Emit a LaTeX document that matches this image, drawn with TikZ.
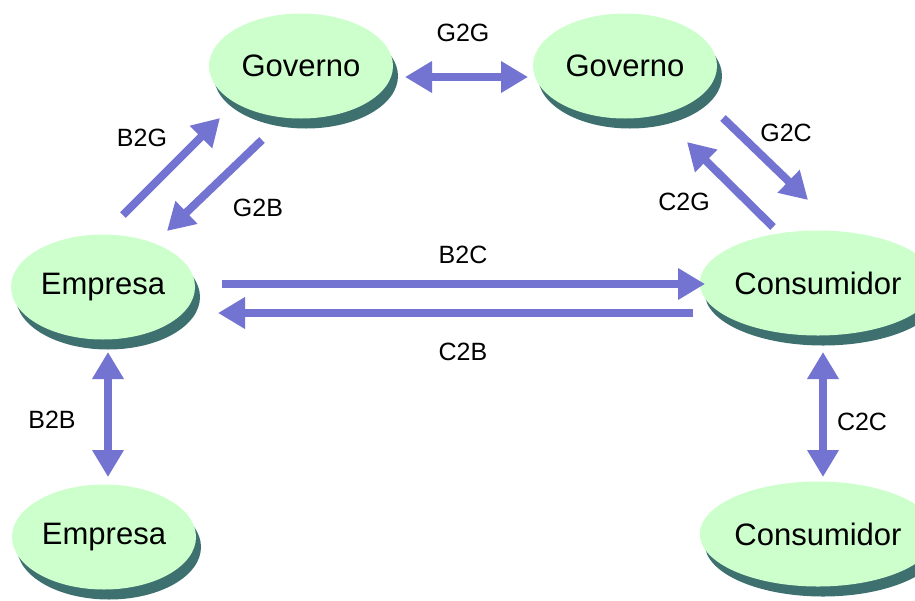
\documentclass[tikz,border=0pt]{standalone}
\usepackage{fontspec}
\setmainfont{Liberation Sans}
\usetikzlibrary{shapes.geometric}
\usetikzlibrary{shadows}
\usetikzlibrary{arrows.meta}
\definecolor{mintgreen}{RGB}{204,255,204}
\definecolor{shadowteal}{RGB}{62,112,112}
\definecolor{lavenderblue}{RGB}{115,115,210}
\tikzset{
  actor/.style={ellipse, fill=mintgreen, minimum width=184pt, minimum height=105pt,
    inner sep=0pt, font=\fontsize{31}{36}\selectfont,
    drop shadow={shadow xshift=5pt, shadow yshift=-10pt, fill=shadowteal, opacity=1}},
  flow/.style={line width=8pt, lavenderblue, -{Triangle[length=27pt,width=30pt]}},
  twoway/.style={flow, {Triangle[length=27pt,width=30pt]}-{Triangle[length=27pt,width=30pt]}},
  tag/.style={font=\fontsize{25}{30}\selectfont}
}

\begin{document}
\begin{tikzpicture}[x=1pt, y=-1pt]
	\useasboundingbox (0,0) rectangle (915,600);

	% actors
	\node[actor] (gov1) at (301,66) {Governo};
	\node[actor] (gov2) at (625,66) {Governo};
	\node[actor] (emp1) at (103,287) {Empresa};
	\node[actor] (con1) at (818,283) {Consumidor};
	\node[actor] (emp2) at (104,537) {Empresa};
	\node[actor] (con2) at (818,534) {Consumidor};

	% arrow ends
	\coordinate (g2g1) at (405,77);
	\coordinate (g2g2) at (528,77);
	\coordinate (b2g1) at (123,215);
	\coordinate (b2g2) at (220,118);
	\coordinate (g2b1) at (262,140);
	\coordinate (g2b2) at (167,231);
	\coordinate (g2c1) at (723,118);
	\coordinate (g2c2) at (808,200);
	\coordinate (c2g1) at (773,227);
	\coordinate (c2g2) at (687,142);
	\coordinate (b2c1) at (222,284);
	\coordinate (b2c2) at (705,284);
	\coordinate (c2b1) at (693,313);
	\coordinate (c2b2) at (218,313);
	\coordinate (b2b1) at (108,352);
	\coordinate (b2b2) at (108,477);
	\coordinate (c2c1) at (823,352);
	\coordinate (c2c2) at (823,477);

	\draw[twoway] (g2g1) -- (g2g2);
	\draw[flow] (b2g1) -- (b2g2);
	\draw[flow] (g2b1) -- (g2b2);
	\draw[flow] (g2c1) -- (g2c2);
	\draw[flow] (c2g1) -- (c2g2);
	\draw[flow] (b2c1) -- (b2c2);
	\draw[flow] (c2b1) -- (c2b2);
	\draw[twoway] (b2b1) -- (b2b2);
	\draw[twoway] (c2c1) -- (c2c2);

	% labels
	\node[tag] (lg2g) at (463,33) {G2G};
	\node[tag] (lb2g) at (142,138) {B2G};
	\node[tag] (lg2b) at (258,208) {G2B};
	\node[tag] (lg2c) at (786,133) {G2C};
	\node[tag] (lc2g) at (684,202) {C2G};
	\node[tag] (lb2c) at (463,255) {B2C};
	\node[tag] (lc2b) at (463,352) {C2B};
	\node[tag] (lb2b) at (52,420) {B2B};
	\node[tag] (lc2c) at (862,422) {C2C};
\end{tikzpicture}
\end{document}
